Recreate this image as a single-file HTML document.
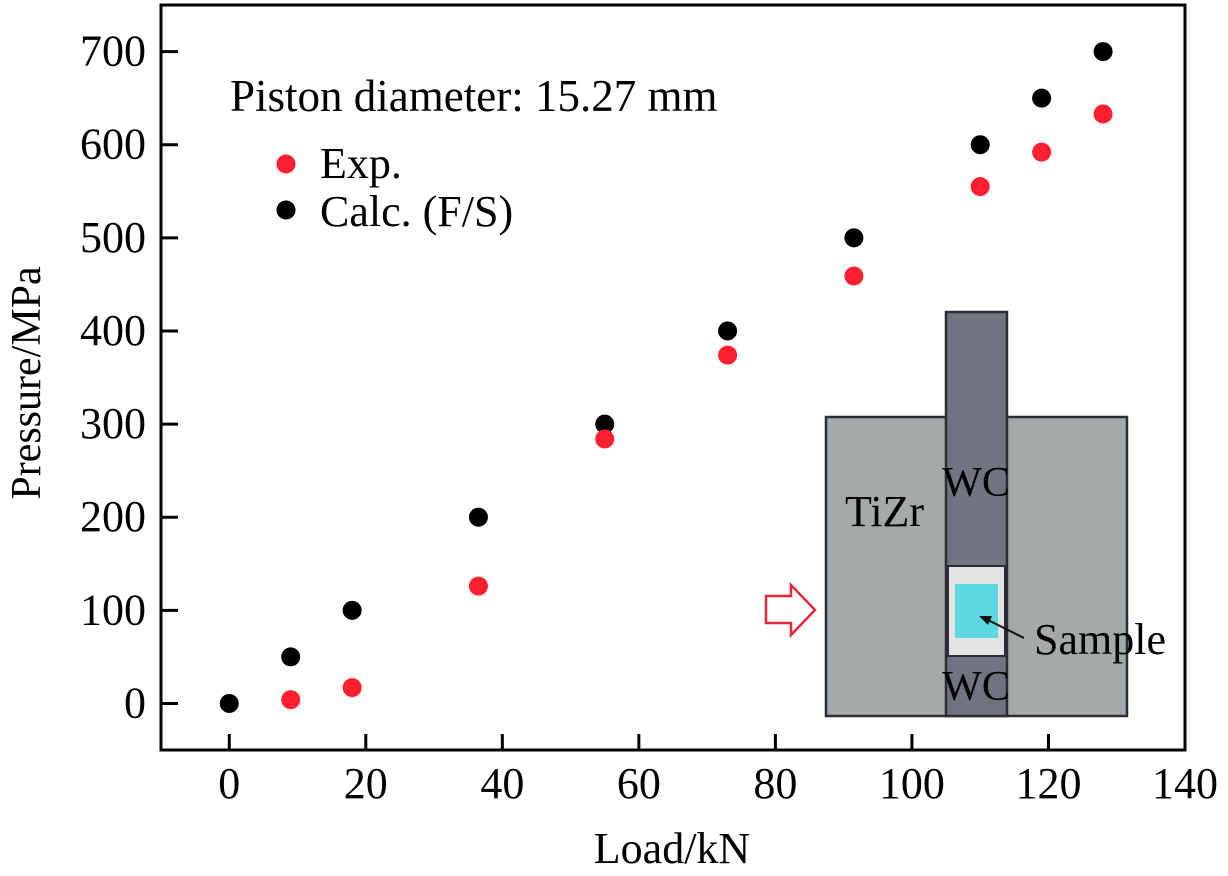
<!DOCTYPE html>
<html><head><meta charset="utf-8"><style>
html,body{margin:0;padding:0;background:#fff;}
svg{display:block;font-family:"Liberation Serif",serif;}
</style></head><body>
<svg id="chart" width="1228" height="876" viewBox="0 0 1228 876" xmlns="http://www.w3.org/2000/svg">
  <g id="inset">
    <rect x="826" y="417" width="301" height="299" fill="#a4aaa9" stroke="#2c2c34" stroke-width="2.5"/>
    <rect x="946" y="312" width="61" height="404" fill="#6f7480" stroke="#2c2c34" stroke-width="2.5"/>
    <rect x="948" y="566" width="57" height="90" fill="#e2e4e1" stroke="#2c2c34" stroke-width="2"/>
    <rect x="955" y="584" width="43" height="54" fill="#5dd8e2"/>
    <text x="976" y="496" font-size="42" text-anchor="middle">WC</text>
    <text x="976" y="700" font-size="42" text-anchor="middle">WC</text>
    <text x="845" y="526" font-size="44">TiZr</text>
    <text x="1034" y="654" font-size="44">Sample</text>
    <line x1="1024" y1="638" x2="984" y2="618" stroke="#111" stroke-width="2"/>
    <polygon points="979,616 992,616 988,625" fill="#111"/>
    <polygon points="766,596 791,596 791,585 815,610 791,635 791,623 766,623" fill="#fff" stroke="#e8283a" stroke-width="2.5"/>
  </g>
  <g id="axes"></g>
  <g id="marks"></g>
  <text x="230" y="111" font-size="45">Piston diameter: 15.27 mm</text>
  <circle cx="286" cy="164" r="9.5" fill="#ff1f2e"/>
  <text x="320" y="178" font-size="44">Exp.</text>
  <circle cx="286" cy="210" r="9.5" fill="#000"/>
  <text x="320" y="226" font-size="44">Calc. (F/S)</text>
  <text x="672" y="863" font-size="44" text-anchor="middle">Load/kN</text>
  <text x="40" y="383" font-size="42" text-anchor="middle" transform="rotate(-90 40 383)">Pressure/MPa</text>
</svg>
<script>
const xTicks=[0,20,40,60,80,100,120,140];
const yTicks=[0,100,200,300,400,500,600,700];
const expLoad=[9,18,36.5,55,73,91.5,110,119,128];
const expPressure=[4,17,126,284,374,459,555,592,633];
const calcLoad=[0,9,18,36.5,55,73,91.5,110,119,128];
const calcPressure=[0,50,100,200,300,400,500,600,650,700];

const X0=161,X1=1185,Y0=750,Y1=5,xmin=-10,xmax=140,ymin=-50,ymax=750;
function sx(v){return X0+(v-xmin)/(xmax-xmin)*(X1-X0);}
function sy(v){return Y0-(v-ymin)/(ymax-ymin)*(Y0-Y1);}
const NS="http://www.w3.org/2000/svg";
function mk(tag,attrs,parent){const e=document.createElementNS(NS,tag);for(const k in attrs)e.setAttribute(k,attrs[k]);parent.appendChild(e);return e;}
const axes=document.getElementById('axes'),marks=document.getElementById('marks');
const frame=mk('rect',{x:X0,y:Y1,width:X1-X0,height:Y0-Y1,fill:'none',stroke:'#000','stroke-width':3},axes);


xTicks.forEach(t=>{
  const l=mk('line',{x1:sx(t),x2:sx(t),y1:Y0,y2:Y0-16,stroke:'#000','stroke-width':3},axes);
  
  
  const tx=mk('text',{x:sx(t),y:Y0+48,'font-size':44,'text-anchor':'middle'},axes);
  tx.textContent=t;
  
  
});
yTicks.forEach(t=>{
  const l=mk('line',{x1:X0,x2:X0+17,y1:sy(t),y2:sy(t),stroke:'#000','stroke-width':3},axes);
  
  
  const tx=mk('text',{x:X0-15,y:sy(t)+14,'font-size':44,'text-anchor':'end'},axes);
  tx.textContent=t;
  
  
});
calcLoad.forEach((v,i)=>{
  const c=mk('circle',{cx:sx(v),cy:sy(calcPressure[i]),r:9.5,fill:'#000'},marks);
  
  
});
expLoad.forEach((v,i)=>{
  const c=mk('circle',{cx:sx(v),cy:sy(expPressure[i]),r:9.5,fill:'#ff1f2e'},marks);
  
  
});
</script>
</body></html>
